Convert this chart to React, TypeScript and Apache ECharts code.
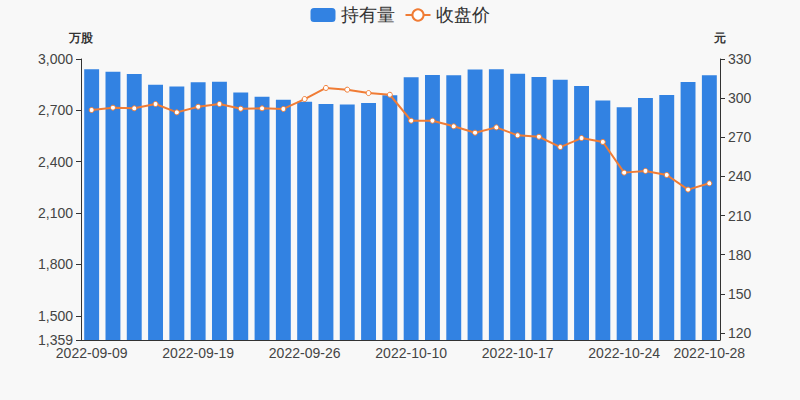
import React, { useEffect, useRef } from "react";
import * as echarts from "echarts";

const dates = [
  "2022-09-09", "2022-09-13", "2022-09-14", "2022-09-15", "2022-09-16",
  "2022-09-19", "2022-09-20", "2022-09-21", "2022-09-22", "2022-09-23",
  "2022-09-26", "2022-09-27", "2022-09-28", "2022-09-29", "2022-09-30",
  "2022-10-10", "2022-10-11", "2022-10-12", "2022-10-13", "2022-10-14",
  "2022-10-17", "2022-10-18", "2022-10-19", "2022-10-20", "2022-10-21",
  "2022-10-24", "2022-10-25", "2022-10-26", "2022-10-27", "2022-10-28",
];

const holdings = [
  2940, 2926, 2912, 2850, 2840, 2864, 2867, 2805, 2780, 2762,
  2751, 2737, 2735, 2743, 2788, 2893, 2907, 2905, 2938, 2940,
  2914, 2895, 2879, 2842, 2757, 2718, 2772, 2790, 2866, 2905,
];

const closePrice = [
  290.9, 292.7, 292.2, 295.5, 289.1, 293.4, 295.5, 291.9, 292.2, 291.7,
  299.3, 307.8, 306.5, 303.9, 302.6, 282.7, 282.7, 278.4, 273.5, 277.6,
  271.5, 270.4, 262.5, 269.4, 266.4, 242.9, 244.2, 241.1, 229.9, 234.7,
];

const leftTicks = [1359, 1500, 1800, 2100, 2400, 2700, 3000];
const rightTicks = [120, 150, 180, 210, 240, 270, 300, 330];

export default function App() {
  const ref = useRef<HTMLDivElement>(null);
  useEffect(() => {
    document.body.style.margin = "0";
    document.body.style.background = "#f8f8f8";
    if (!ref.current) return;
    const chart = echarts.init(ref.current, null, { renderer: "svg" });
    const showIdx = (i: number) => i % 5 === 0 || i === dates.length - 1;
    chart.setOption({
      animation: false,
      backgroundColor: "#f8f8f8",
      legend: {
        top: 1,
        left: "center",
        itemWidth: 25,
        itemHeight: 14,
        itemGap: 10,
        textStyle: { fontSize: 18, color: "#333" },
        data: ["持有量", "收盘价"],
      },
      grid: { left: 81, right: 80, top: 59, bottom: 60 },
      xAxis: {
        type: "category",
        data: dates,
        axisLine: { lineStyle: { color: "#333" } },
        axisTick: { interval: (i: number) => showIdx(i), lineStyle: { color: "#333" } },
        axisLabel: {
          interval: (i: number) => showIdx(i),
          fontSize: 14,
          color: "#444",
          margin: 6,
        },
      },
      yAxis: [
        {
          type: "value",
          min: 1359,
          max: 3000,
          name: "万股",
          nameGap: 15,
          nameTextStyle: { fontWeight: "bold", fontSize: 12, color: "#333" },
          axisLine: { show: true, lineStyle: { color: "#333" } },
          axisTick: { show: true, customValues: leftTicks, lineStyle: { color: "#333" } },
          axisLabel: {
            customValues: leftTicks,
            fontSize: 14,
            color: "#444",
            formatter: (v: number) => v.toLocaleString("en-US"),
          },
          splitLine: { show: false },
        },
        {
          type: "value",
          min: 114.6,
          max: 330,
          name: "元",
          nameGap: 15,
          nameTextStyle: { fontWeight: "bold", fontSize: 12, color: "#333" },
          axisLine: { show: true, lineStyle: { color: "#333" } },
          axisTick: { show: true, customValues: rightTicks, lineStyle: { color: "#333" } },
          axisLabel: { customValues: rightTicks, fontSize: 14, color: "#444" },
          splitLine: { show: false },
        },
      ],
      series: [
        {
          name: "持有量",
          type: "bar",
          data: holdings,
          barWidth: "70%",
          itemStyle: { color: "#3282e2" },
        },
        {
          name: "收盘价",
          type: "line",
          yAxisIndex: 1,
          data: closePrice,
          symbol: "circle",
          symbolSize: 5,
          lineStyle: { color: "#f07c35", width: 2 },
          itemStyle: { color: "#fff", borderColor: "#f07c35", borderWidth: 1 },
        },
      ],
    });
    return () => chart.dispose();
  }, []);
  return <div ref={ref} style={{ width: 800, height: 400 }} />;
}
